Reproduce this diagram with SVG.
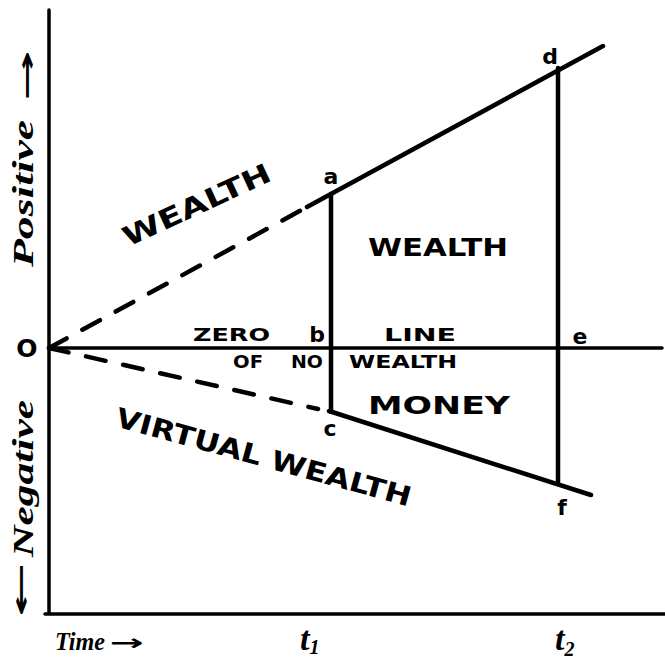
<svg xmlns="http://www.w3.org/2000/svg" width="665" height="664" viewBox="0 0 665 664">
<style>
.ax{stroke:#000;stroke-width:3.5;fill:none;stroke-linecap:round}
.ln{stroke:#000;stroke-width:4.5;fill:none;stroke-linecap:round}
.dash{stroke:#000;stroke-width:4.5;fill:none;stroke-linecap:round;stroke-dasharray:20 18}
.cap{font-family:"DejaVu Sans","Liberation Sans",sans-serif;font-weight:bold;fill:#000}
.pt{font-family:"DejaVu Sans",sans-serif;font-weight:bold;fill:#000;text-anchor:middle;font-size:22px}
.it{font-family:"Liberation Serif","Times New Roman",serif;font-weight:bold;font-style:italic;fill:#000}
.arr{font-family:"DejaVu Sans",sans-serif;font-weight:bold;fill:#000}
</style>
<rect width="665" height="664" fill="#fff"/>
<g id="axes">
<path class="ax" d="M49,10 V614 M45,614 H665"/>
<path class="ax" d="M49,348 H662"/>
</g>
<g id="connectors">
<path class="dash" d="M49,348 L307,207"/>
<path class="ln" d="M307,207 L603,46"/>
<path class="ln" d="M331,194 V412"/>
<path class="ln" d="M558,68 V484"/>
<path class="dash" d="M49,348 L318,409"/>
<path class="ln" d="M329,411 L591,495"/>
</g>
<g id="origin"><text class="cap" x="27" y="357" font-size="25" text-anchor="middle">O</text></g>
<g id="point-a"><text class="pt" x="331" y="184">a</text></g>
<g id="point-b"><text class="pt" x="317" y="342">b</text></g>
<g id="point-c"><text class="pt" x="330" y="436">c</text></g>
<g id="point-d"><text class="pt" x="550" y="64">d</text></g>
<g id="point-e"><text class="pt" x="580" y="344">e</text></g>
<g id="point-f"><text class="pt" x="562" y="515">f</text></g>
<g id="label-wealth-curve"><text class="cap" transform="translate(128,247) rotate(-24.8)" font-size="27" textLength="160" lengthAdjust="spacingAndGlyphs">WEALTH</text></g>
<g id="label-virtual"><text class="cap" transform="translate(114,426) rotate(15.3)" font-size="27" textLength="305" lengthAdjust="spacingAndGlyphs">VIRTUAL WEALTH</text></g>
<g id="label-wealth-area"><text class="cap" x="368" y="256" font-size="25" textLength="140" lengthAdjust="spacingAndGlyphs">WEALTH</text></g>
<g id="label-money"><text class="cap" x="368" y="414" font-size="25" textLength="142" lengthAdjust="spacingAndGlyphs">MONEY</text></g>
<g id="label-zero-line">
<text class="cap" x="193" y="341" font-size="18" textLength="77" lengthAdjust="spacingAndGlyphs">ZERO</text>
<text class="cap" x="384" y="341" font-size="18" textLength="72" lengthAdjust="spacingAndGlyphs">LINE</text>
<text class="cap" x="233" y="368" font-size="18" textLength="30" lengthAdjust="spacingAndGlyphs">OF</text>
<text class="cap" x="291" y="368" font-size="18" textLength="32" lengthAdjust="spacingAndGlyphs">NO</text>
<text class="cap" x="349" y="368" font-size="18" textLength="108" lengthAdjust="spacingAndGlyphs">WEALTH</text>
</g>
<g id="label-positive">
<text class="it" transform="translate(33,267) rotate(-90)" font-size="29" textLength="147" lengthAdjust="spacingAndGlyphs">Positive</text>
<text class="arr" transform="translate(35,101) rotate(-90)" font-size="24" textLength="51" lengthAdjust="spacingAndGlyphs">→</text>
</g>
<g id="label-negative">
<text class="it" transform="translate(33,557) rotate(-90)" font-size="29" textLength="157" lengthAdjust="spacingAndGlyphs">Negative</text>
<text class="arr" transform="translate(29,617) rotate(-90)" font-size="24" textLength="55" lengthAdjust="spacingAndGlyphs">←</text>
</g>
<g id="label-time">
<text class="it" x="55" y="650" font-size="25" textLength="50" lengthAdjust="spacingAndGlyphs">Time</text>
<text class="arr" x="110" y="650" font-size="22" textLength="34" lengthAdjust="spacingAndGlyphs">→</text>
</g>
<g id="label-t1"><text class="it" x="300" y="650" font-size="34">t<tspan font-size="20" dy="4">1</tspan></text></g>
<g id="label-t2"><text class="it" x="555" y="650" font-size="34">t<tspan font-size="20" dy="6">2</tspan></text></g>
</svg>
